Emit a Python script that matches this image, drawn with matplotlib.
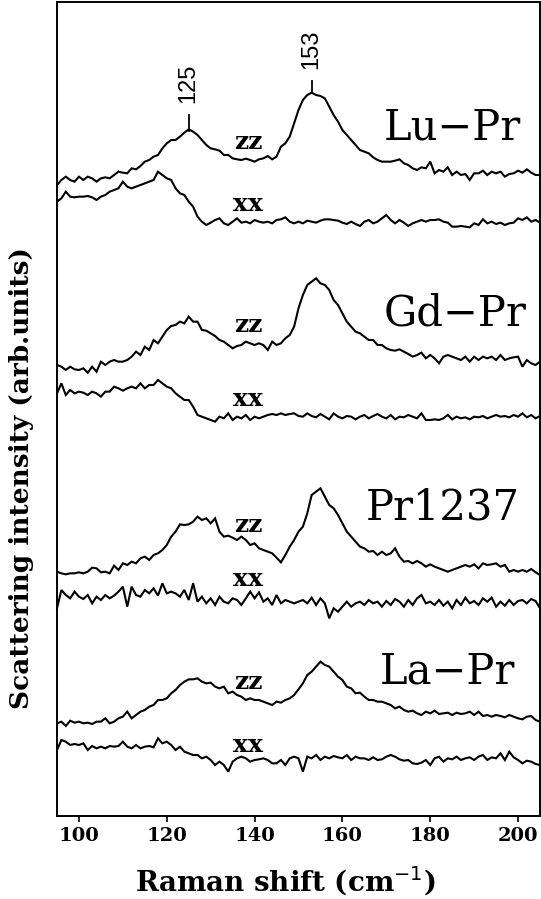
import numpy as np
import matplotlib
matplotlib.use("Agg")
import matplotlib.pyplot as plt

# Raman shift grid (cm^-1), one reading per wavenumber
shift = list(range(95, 206))

# Intensities (arb. units), 95..205 cm^-1
lu_pr_zz = [5, 20, 30, 20, 15, 30, 20, 30, 25, 15, 25, 28, 25, 35, 45, 42, 40, 55, 52, 62,
            75, 80, 90, 95, 115, 130, 140, 140, 150, 162, 172, 165, 155, 140, 125, 115, 112, 108, 95, 95,
            85, 82, 80, 84, 80, 75, 82, 85, 92, 82, 90, 120, 130, 150, 190, 230, 260, 275, 282, 275,
            272, 265, 240, 215, 195, 170, 155, 140, 125, 110, 105, 100, 88, 80, 75, 75, 75, 78, 82, 70,
            65, 55, 50, 58, 55, 75, 40, 50, 45, 58, 35, 45, 35, 38, 20, 40, 40, 48, 35, 45,
            40, 45, 30, 38, 40, 48, 42, 52, 42, 35, 35]
lu_pr_xx = [85, 95, 115, 100, 98, 100, 100, 102, 98, 90, 100, 105, 115, 120, 125, 145, 130, 125, 130, 135,
            140, 145, 150, 175, 165, 155, 150, 125, 110, 105, 85, 70, 40, 25, 15, 22, 30, 35, 20, 15,
            25, 35, 22, 25, 20, 30, 25, 22, 25, 20, 30, 32, 38, 25, 20, 25, 20, 28, 25, 22,
            28, 32, 32, 30, 28, 22, 18, 25, 18, 12, 25, 30, 20, 25, 35, 45, 30, 20, 30, 22,
            12, 20, 25, 30, 25, 30, 30, 32, 25, 22, 10, 10, 12, 10, 8, 20, 15, 32, 20, 25,
            18, 22, 15, 20, 22, 35, 30, 38, 25, 30, 22]
gd_pr_zz = [25, 20, 10, 20, 12, 10, 15, 2, 20, 5, 35, 25, 35, 40, 35, 35, 40, 50, 65, 55,
            80, 70, 100, 90, 110, 130, 142, 145, 155, 150, 170, 155, 155, 130, 128, 120, 112, 100, 95, 85,
            75, 82, 85, 95, 90, 85, 90, 85, 70, 95, 85, 90, 105, 115, 140, 195, 235, 265, 275, 285,
            270, 265, 250, 220, 205, 180, 155, 140, 125, 120, 110, 100, 100, 85, 85, 75, 70, 68, 72, 65,
            58, 50, 55, 62, 45, 55, 45, 30, 50, 55, 50, 45, 40, 50, 35, 50, 40, 50, 45, 50,
            40, 55, 40, 45, 48, 50, 20, 40, 30, 25, 35]
gd_pr_xx = [100, 130, 95, 110, 100, 105, 102, 95, 105, 100, 90, 105, 105, 120, 115, 108, 115, 120, 115, 130,
            115, 125, 125, 140, 130, 120, 115, 100, 90, 80, 80, 60, 35, 30, 25, 20, 15, 30, 25, 40,
            20, 30, 25, 35, 20, 30, 25, 30, 35, 38, 35, 40, 35, 38, 40, 32, 30, 40, 32, 28,
            38, 30, 22, 40, 30, 25, 32, 30, 22, 30, 35, 25, 32, 38, 30, 25, 35, 22, 30, 28,
            35, 30, 25, 40, 20, 20, 22, 20, 25, 35, 22, 30, 25, 28, 22, 30, 28, 32, 25, 30,
            35, 30, 32, 28, 35, 30, 40, 28, 35, 25, 32]
pr1237_zz = [20, 15, 12, 15, 15, 18, 15, 20, 32, 30, 18, 20, 15, 38, 25, 45, 40, 50, 45, 60,
             65, 55, 70, 75, 85, 100, 125, 140, 162, 160, 162, 170, 185, 175, 180, 165, 180, 140, 125, 128,
             122, 115, 125, 115, 100, 105, 90, 85, 80, 75, 62, 48, 70, 95, 115, 140, 155, 195, 250, 260,
             270, 245, 220, 210, 190, 165, 140, 125, 110, 95, 90, 80, 82, 70, 80, 70, 75, 90, 65, 50,
             52, 45, 52, 45, 35, 42, 35, 30, 25, 20, 25, 30, 35, 40, 35, 42, 30, 45, 40, 42,
             45, 35, 40, 20, 25, 20, 25, 20, 28, 18, 10]
pr1237_xx = [40, 95, 80, 70, 90, 75, 68, 80, 55, 75, 65, 80, 70, 78, 90, 105, 45, 105, 80, 75,
             95, 85, 100, 78, 115, 85, 90, 85, 75, 95, 65, 115, 60, 75, 55, 70, 50, 75, 60, 55,
             70, 65, 50, 70, 90, 70, 88, 60, 70, 50, 80, 55, 65, 60, 55, 60, 65, 55, 72, 50,
             70, 55, 10, 40, 30, 45, 60, 45, 55, 60, 50, 65, 55, 60, 45, 62, 50, 68, 60, 45,
             65, 50, 70, 80, 55, 60, 50, 65, 48, 60, 40, 65, 50, 72, 55, 62, 50, 70, 60, 72,
             45, 60, 48, 65, 50, 62, 65, 55, 68, 62, 40]
la_pr_zz = [10, 15, 2, 18, 12, 15, 10, 12, 8, 15, 15, 25, 10, 15, 25, 30, 45, 25, 35, 45,
            50, 60, 65, 80, 80, 85, 100, 110, 125, 135, 142, 142, 145, 135, 130, 132, 120, 115, 120, 100,
            105, 95, 90, 80, 85, 80, 80, 75, 70, 65, 75, 72, 80, 85, 95, 112, 130, 155, 165, 180,
            195, 185, 180, 165, 150, 140, 120, 115, 100, 102, 90, 80, 80, 75, 75, 70, 65, 55, 60, 50,
            45, 48, 40, 35, 45, 40, 48, 38, 40, 42, 35, 42, 38, 40, 45, 35, 45, 32, 35, 30,
            35, 32, 28, 35, 30, 25, 22, 30, 32, 20, 15]
la_pr_xx = [70, 100, 95, 85, 88, 85, 90, 70, 82, 75, 80, 75, 82, 80, 82, 95, 80, 75, 85, 75,
            80, 82, 78, 105, 90, 95, 85, 70, 80, 65, 60, 55, 55, 45, 50, 40, 25, 35, 25, 5,
            35, 45, 50, 45, 35, 40, 42, 45, 40, 30, 30, 40, 25, 45, 50, 45, 5, 50, 45, 55,
            40, 50, 45, 52, 48, 45, 55, 40, 50, 45, 45, 40, 48, 40, 42, 50, 55, 50, 42, 38,
            40, 30, 28, 32, 40, 25, 45, 50, 35, 45, 42, 50, 40, 45, 48, 40, 50, 55, 40, 48,
            45, 60, 40, 65, 48, 40, 30, 38, 35, 28, 25]

samples = ["Lu\u2212Pr", "Gd\u2212Pr", "Pr1237", "La\u2212Pr"]
peak_labels = ["125", "153"]
peak_positions = [125, 153]
xticks = [100, 120, 140, 160, 180, 200]

# ---- layout (vertical offsets for the stacked spectra) ----
traces = [
    (lu_pr_zz, 1888), (lu_pr_xx, 1758),
    (gd_pr_zz, 1328), (gd_pr_xx, 1168),
    (pr1237_zz, 713), (pr1237_xx, 583),
    (la_pr_zz, 268), (la_pr_xx, 128),
]

serif = ["DejaVu Serif"]
fig = plt.figure(figsize=(5.41, 8.99), dpi=100)
ax = fig.add_axes([57 / 541, 83 / 899, 483 / 541, 814 / 899])

x = np.array(shift)
for vals, off in traces:
    ax.plot(x, np.array(vals) + off, color="black", lw=1.5, solid_joinstyle="miter")

ax.set_xlim(95, 205)
ax.set_ylim(0, 2442)
ax.set_yticks([])
ax.set_xticks(xticks)
ax.set_xticklabels([str(t) for t in xticks], fontfamily=serif, fontweight="bold", fontsize=14)
ax.tick_params(axis="x", direction="out", length=4, width=1.2, pad=4)
for s in ax.spines.values():
    s.set_linewidth(1.4)

fig.text(285 / 541, 7 / 899, "Raman shift (cm$^{-1}$)", ha="center", va="baseline",
         fontfamily=serif, fontweight="bold", fontsize=20)
fig.text(22 / 541, 1 - 478 / 899, "Scattering intensity (arb.units)", rotation=90,
         ha="center", va="center", fontfamily=serif, fontweight="bold", fontsize=19)

# polarisation labels
pol_y = [2022, 1836, 1473, 1251, 873, 711, 402, 213]
for i, yy in enumerate(pol_y):
    ax.text(138.5, yy, "zz" if i % 2 == 0 else "xx", ha="center", va="center",
            fontfamily=serif, fontweight="bold", fontsize=18)

# sample labels
sample_pos = [(185.0, 2067), (185.7, 1509), (182.9, 927), (184.0, 432)]
for name, (sx, sy) in zip(samples, sample_pos):
    ax.text(sx, sy, name, ha="center", va="center", fontfamily=serif, fontsize=30)

# peak markers for Lu-Pr
marker_spans = [(2055, 2103), (2175, 2205)]
label_y = [2199, 2301]
for lab, px, (y0, y1), ly in zip(peak_labels, peak_positions, marker_spans, label_y):
    ax.plot([px, px], [y0, y1], color="black", lw=1.3)
    ax.text(px, ly, lab, rotation=90, ha="center", va="center",
            fontfamily=["Liberation Sans"], fontsize=17)

fig.savefig("out.png", dpi=100)
